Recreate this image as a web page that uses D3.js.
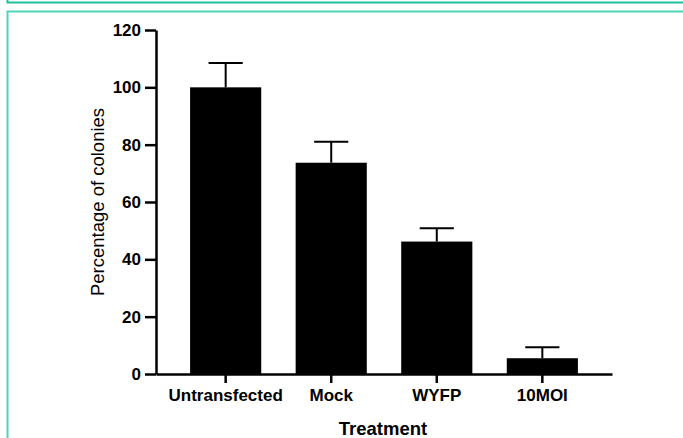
<!DOCTYPE html>
<html lang="en">
<head>
    <meta charset="UTF-8">
    <title>Percentage of colonies by treatment</title>
    <script src="https://d3js.org/d3.v7.min.js"></script>
    <style>
        body { margin: 0; background: #fff; }
    </style>
</head>
<body>
    <div id="chart"></div>
    <script>
        // values
        const treatments = ["Untransfected", "Mock", "WYFP", "10MOI"];
        const means = [100, 73.7, 46.2, 5.5];
        const errors = [8.5, 7.3, 4.6, 3.8];
        const yTicks = [0, 20, 40, 60, 80, 100, 120];

        const width = 683, height = 438;
        const font = "'Liberation Sans', Arial, sans-serif";
        const svg = d3.select("#chart").append("svg")
            .attr("width", width)
            .attr("height", height);

        // teal frame around the figure
        svg.append("path")
            .attr("d", "M7.5,0 V2.5 H683")
            .attr("fill", "none")
            .attr("stroke", "#1fbf9f")
            .attr("stroke-width", 2);
        svg.append("path")
            .attr("d", "M7.5,438 V11.5 H683")
            .attr("fill", "none")
            .attr("stroke", "#4fd3bb")
            .attr("stroke-width", 2);

        const x = d3.scaleBand()
            .domain(treatments)
            .range([156, 612])
            .paddingInner(0.326)
            .paddingOuter(0.323);

        const y = d3.scaleLinear()
            .domain([0, 120])
            .range([374, 30]);

        // y axis
        const yAxis = svg.append("g")
            .attr("transform", "translate(156,0)")
            .call(d3.axisLeft(y).tickValues(yTicks).tickSize(11).tickSizeOuter(0).tickPadding(4));
        yAxis.select(".domain").attr("stroke-width", 2.5);
        yAxis.selectAll(".tick line").attr("stroke-width", 2.5);
        yAxis.selectAll("text")
            .attr("font-family", font)
            .attr("font-size", 17)
            .attr("font-weight", "bold")
            .attr("fill", "#000");

        // bars
        svg.selectAll(".bar")
            .data(treatments)
            .enter().append("rect")
            .attr("class", "bar")
            .attr("x", d => x(d))
            .attr("y", (d, i) => y(means[i]))
            .attr("width", x.bandwidth())
            .attr("height", (d, i) => y(0) - y(means[i]))
            .attr("fill", "#000");

        // error bars (upper only)
        const capHalf = x.bandwidth() * 0.24;
        const eb = svg.selectAll(".err")
            .data(treatments)
            .enter().append("g")
            .attr("class", "err")
            .attr("stroke", "#000")
            .attr("stroke-width", 2);
        eb.append("line")
            .attr("x1", d => x(d) + x.bandwidth() / 2)
            .attr("x2", d => x(d) + x.bandwidth() / 2)
            .attr("y1", (d, i) => y(means[i]))
            .attr("y2", (d, i) => y(means[i] + errors[i]));
        eb.append("line")
            .attr("x1", d => x(d) + x.bandwidth() / 2 - capHalf)
            .attr("x2", d => x(d) + x.bandwidth() / 2 + capHalf)
            .attr("y1", (d, i) => y(means[i] + errors[i]))
            .attr("y2", (d, i) => y(means[i] + errors[i]));

        // x axis
        const xAxis = svg.append("g")
            .attr("transform", "translate(0," + y(0) + ")")
            .call(d3.axisBottom(x).tickSize(9).tickSizeOuter(0).tickPadding(6));
        xAxis.select(".domain").attr("stroke-width", 2.5);
        xAxis.selectAll(".tick line").attr("stroke-width", 2.5);
        xAxis.selectAll("text")
            .attr("font-family", font)
            .attr("font-size", 17)
            .attr("font-weight", "bold")
            .attr("fill", "#000");

        // axis titles
        svg.append("text")
            .attr("transform", "translate(104,202) rotate(-90)")
            .attr("text-anchor", "middle")
            .attr("font-family", font)
            .attr("font-size", 18.5)
            .text("Percentage of colonies");

        svg.append("text")
            .attr("x", 383)
            .attr("y", 435)
            .attr("text-anchor", "middle")
            .attr("font-family", font)
            .attr("font-size", 18.5)
            .attr("font-weight", "bold")
            .text("Treatment");
    </script>
</body>
</html>
